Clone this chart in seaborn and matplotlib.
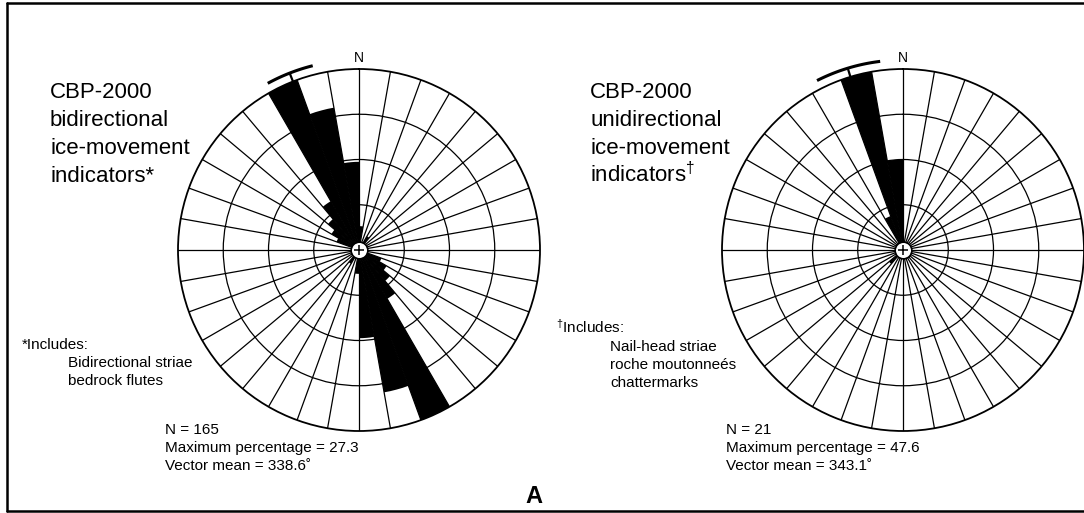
import numpy as np
import seaborn as sns
import matplotlib.pyplot as plt

# sector starts (degrees, clockwise from north), 10-degree bins
sector_start = np.arange(0, 360, 10)

# percentages per sector
bidir_pct = np.array([3.6, 0, 0, 2.4, 0, 0, 0, 0, 0, 0, 0, 3.6,
                      4.8, 6.1, 8.5, 27.3, 21.8, 13.3, 3.6, 0, 0, 2.4, 0, 0,
                      0, 0, 0, 0, 0, 3.6, 4.8, 6.1, 8.5, 27.3, 21.8, 13.3])
unidir_pct = np.array([0, 0, 0, 0, 0, 0, 0, 0, 0, 0, 0, 0,
                       0, 0, 0, 0, 0, 0, 0, 0, 0, 0, 4.8, 0,
                       0, 0, 0, 0, 0, 0, 0, 0, 0, 9.5, 47.6, 23.8])

vector_mean = [338.6, 343.1]
mean_spread = [7.3, 10.0]
max_pct = [27.3, 47.6]
n_obs = [165, 21]

titles = [["CBP-2000", "bidirectional", "ice-movement", r"indicators*"],
          ["CBP-2000", "unidirectional", "ice-movement", r"indicators$^{\dagger}$"]]
includes = [["*Includes:", "Bidirectional striae", "bedrock flutes"],
            [r"$^{\dagger}$Includes:", "Nail-head striae", "roche moutonneés", "chattermarks"]]

sns.set_theme(style="white")
plt.rcParams['font.family'] = ['Liberation Sans', 'DejaVu Sans']
plt.rcParams['mathtext.fontset'] = 'custom'
plt.rcParams['mathtext.rm'] = 'Liberation Sans'
plt.rcParams['mathtext.it'] = 'Liberation Sans'
plt.rcParams['mathtext.bf'] = 'Liberation Sans:bold'

W, H = 1084, 513
fig = plt.figure(figsize=(W / 100, H / 100), dpi=100)


def put(x, y, s, **kw):
    fig.text(x / W, 1 - y / H, s, va='baseline', color='black', **kw)


R = 181
centers = [(359, 250), (903, 250)]
data = [bidir_pct, unidir_pct]

for k, (cx, cy) in enumerate(centers):
    ax = fig.add_axes([(cx - R) / W, (H - cy - R) / H, 2 * R / W, 2 * R / H],
                      projection='polar')
    ax.set_theta_zero_location('N')
    ax.set_theta_direction(-1)
    ax.set_axisbelow(True)
    m = max_pct[k]
    ax.bar(np.deg2rad(sector_start), data[k], width=np.deg2rad(10),
           align='edge', color='black', linewidth=0, zorder=2)
    ax.set_ylim(0, m)
    ax.set_thetagrids(np.arange(0, 360, 10), labels=[])
    ax.set_rgrids([m * 0.25, m * 0.5, m * 0.75], labels=[])
    ax.grid(True, color='black', linewidth=0.9)
    ax.spines['polar'].set_linewidth(1.3)
    ax.spines['polar'].set_color('black')
    ax.set_facecolor('white')

    # vector mean arc and tick
    r_arc = m * 190 / R
    th = np.deg2rad(np.linspace(vector_mean[k] - mean_spread[k],
                                vector_mean[k] + mean_spread[k], 50))
    ax.plot(th, np.full_like(th, r_arc), color='black', lw=2.2,
            clip_on=False, zorder=5, solid_capstyle='butt')
    vm = np.deg2rad(vector_mean[k])
    ax.plot([vm, vm], [m, r_arc], color='black', lw=1.6, clip_on=False, zorder=5)

    # centre marker
    ax.plot([0], [0], marker='o', ms=12, mfc='white', mec='black', mew=1.2,
            zorder=6, clip_on=False)
    ax.plot([0], [0], marker='+', ms=7, color='black', mew=1.1, zorder=7,
            clip_on=False)

    put(cx, cy - R - 7, "N", fontsize=10, ha='center')

# title blocks
for k, x0 in enumerate([50, 590]):
    for i, line in enumerate(titles[k]):
        put(x0, 98 + i * 28, line, fontsize=16)

# includes notes
put(22, 349, includes[0][0], fontsize=11)
for i, line in enumerate(includes[0][1:]):
    put(68, 367 + i * 18, line, fontsize=11)
put(556, 333, includes[1][0], fontsize=11)
for i, line in enumerate(includes[1][1:]):
    put(610, 351 + i * 18, line, fontsize=11)

# statistics
for k, x0 in enumerate([165, 726]):
    put(x0, 434, f"N = {n_obs[k]}", fontsize=11)
    put(x0, 452, f"Maximum percentage = {max_pct[k]}", fontsize=11)
    put(x0, 470, f"Vector mean = {vector_mean[k]}˚", fontsize=11)

put(534, 503, "A", fontsize=17, fontweight='bold', ha='center')

# frame (right edge lies outside the picture)
frame = dict(color='black', lw=1.8, transform=fig.transFigure)
fig.add_artist(plt.Line2D([7 / W, 7 / W], [1 - 3 / H, 1 - 511 / H], **frame))
fig.add_artist(plt.Line2D([7 / W, 1], [1 - 3 / H, 1 - 3 / H], **frame))
fig.add_artist(plt.Line2D([7 / W, 1], [1 - 511 / H, 1 - 511 / H], **frame))

fig.savefig("out.png", dpi=100, facecolor='white')
